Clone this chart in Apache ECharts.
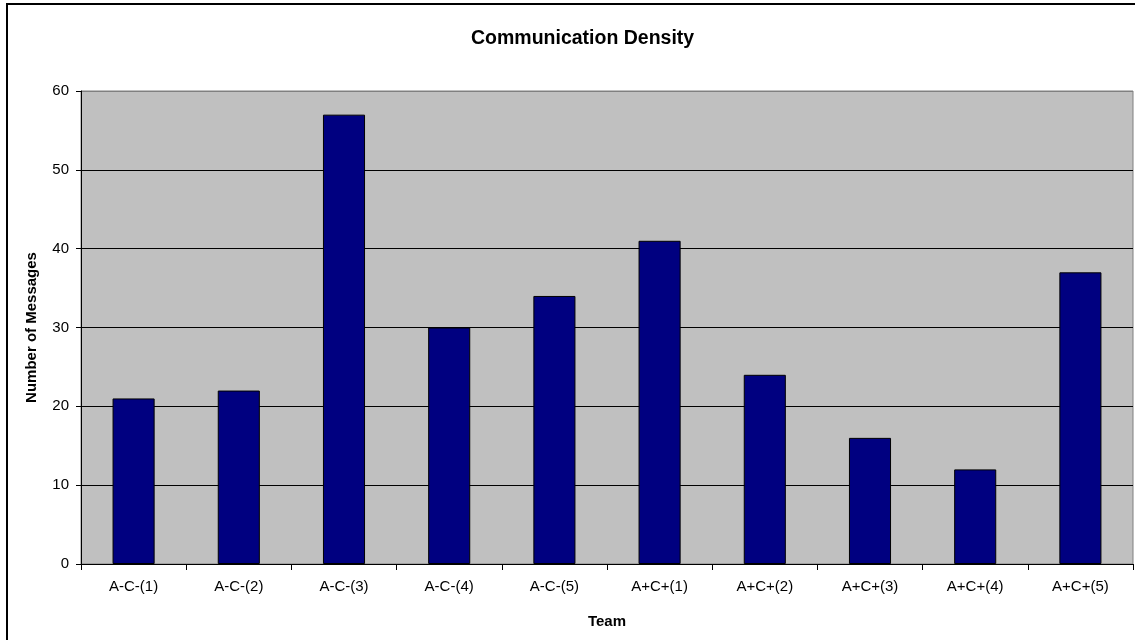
<!DOCTYPE html>
<html>
<head>
<meta charset="utf-8">
<script src="https://cdn.jsdelivr.net/npm/echarts@6/dist/echarts.min.js"></script>
<style>
    html, body { margin: 0; padding: 0; background: #fff; }
    #myChart { width: 1135px; height: 640px; }
</style>
</head>
<body>
<div id="myChart"></div>
<script>
    // 数据
    var teams = ['A-C-(1)', 'A-C-(2)', 'A-C-(3)', 'A-C-(4)', 'A-C-(5)',
        'A+C+(1)', 'A+C+(2)', 'A+C+(3)', 'A+C+(4)', 'A+C+(5)']
    var messages = [21, 22, 57, 30, 34, 41, 24, 16, 12, 37]

    var font = 'Liberation Sans, Arial, sans-serif'
    var myChart = echarts.init(document.getElementById('myChart'))
    myChart.setOption({
        animation: false,
        title: {
            text: 'Communication Density',
            left: 466,
            top: 24,
            textStyle: { fontFamily: font, fontSize: 19.5, fontWeight: 'bold', color: '#000' }
        },
        graphic: [{
            type: 'rect',
            shape: { x: 7, y: 4, width: 1140, height: 650 },
            style: { fill: 'none', stroke: '#000', lineWidth: 2 },
            silent: true
        }],
        grid: {
            left: 81, right: 2, top: 91, bottom: 76,
            show: true,
            backgroundColor: '#c0c0c0',
            borderColor: '#808080',
            borderWidth: 1
        },
        xAxis: {
            type: 'category',
            data: teams,
            name: 'Team',
            nameLocation: 'middle',
            nameGap: 50,
            nameTextStyle: { fontFamily: font, fontSize: 15, fontWeight: 'bold', color: '#000' },
            axisLine: { lineStyle: { color: '#000', width: 1 } },
            axisTick: { show: true, length: 6, lineStyle: { color: '#000' } },
            axisLabel: { fontFamily: font, fontSize: 15, color: '#000', margin: 15 },
            splitLine: { show: false }
        },
        yAxis: {
            type: 'value',
            min: 0,
            max: 60,
            interval: 10,
            name: 'Number of Messages',
            nameLocation: 'middle',
            nameGap: 42,
            nameTextStyle: { fontFamily: font, fontSize: 15, fontWeight: 'bold', color: '#000' },
            axisLine: { show: true, lineStyle: { color: '#000', width: 1 } },
            axisTick: { show: true, length: 5, lineStyle: { color: '#000' } },
            axisLabel: { fontFamily: font, fontSize: 15, color: '#000', margin: 12 },
            splitLine: {
                show: true,
                lineStyle: { color: ['#000', '#000', '#000', '#000', '#000', '#000', '#808080'], width: 1 }
            }
        },
        series: [{
            type: 'bar',
            data: messages,
            barCategoryGap: '60%',
            itemStyle: { color: '#000080', borderColor: '#000', borderWidth: 1 }
        }]
    })
</script>
</body>
</html>
